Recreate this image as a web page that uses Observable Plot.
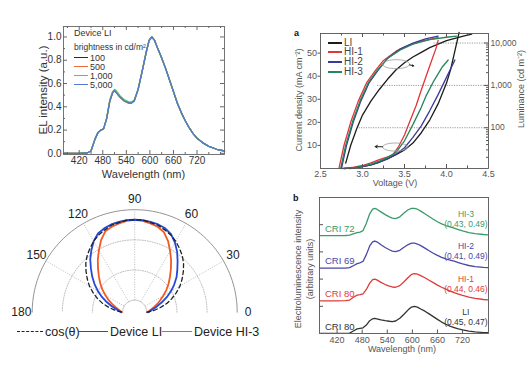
<!DOCTYPE html>
<html><head><meta charset="utf-8">
<script src="https://cdn.jsdelivr.net/npm/d3@7"></script>
<script src="https://cdn.jsdelivr.net/npm/@observablehq/plot@0.6"></script>
<style>
body{margin:0;background:#fff;}
#wrap{position:relative;width:530px;height:376px;overflow:hidden;background:#fff;}
</style></head><body><div id="wrap"></div>
<script>
// ================= DATA =================
// Panel 1: EL spectra of device LI at different brightness
const wavelengths = [380,400,420,440,450,460,468,475,482,490,498,505,510,515,525,535,545,552,560,570,580,590,598,605,612,620,630,640,650,660,670,680,690,700,710,720,735,750,770,790];
const el100  = [0,0,0,0.003,0.02,0.12,0.18,0.20,0.21,0.30,0.45,0.52,0.54,0.52,0.48,0.45,0.435,0.43,0.45,0.55,0.70,0.86,0.97,1.00,0.97,0.90,0.82,0.73,0.63,0.53,0.43,0.35,0.28,0.22,0.17,0.13,0.09,0.06,0.035,0.02];
const el500  = [0,0,0,0.003,0.02,0.12,0.18,0.20,0.21,0.30,0.45,0.52,0.535,0.52,0.48,0.45,0.43,0.43,0.45,0.55,0.70,0.86,0.97,1.00,0.97,0.90,0.82,0.73,0.63,0.53,0.43,0.35,0.28,0.22,0.17,0.13,0.09,0.06,0.035,0.02];
const el1000 = [0,0,0,0.003,0.02,0.12,0.18,0.20,0.21,0.30,0.46,0.53,0.55,0.535,0.49,0.46,0.445,0.44,0.455,0.55,0.70,0.86,0.97,1.00,0.97,0.90,0.82,0.73,0.63,0.53,0.43,0.35,0.28,0.22,0.17,0.13,0.09,0.06,0.035,0.02];
const el5000 = [0,0,0,0.003,0.02,0.12,0.18,0.20,0.21,0.30,0.45,0.52,0.54,0.52,0.48,0.45,0.435,0.43,0.45,0.55,0.70,0.86,0.97,1.00,0.97,0.90,0.82,0.73,0.63,0.53,0.43,0.35,0.28,0.22,0.17,0.13,0.09,0.06,0.035,0.02];
const brightnessLabels = ["100","500","1,000","5,000"];
const elTicksX = [420,480,540,600,660,720];
const elTicksY = [0,0.2,0.4,0.6,0.8,1.0];

// Panel a: J-V-L
const deviceNames = ["LI","HI-1","HI-2","HI-3"];
const voltLumLI  = [2.80,2.86,2.93,3.00,3.10,3.20,3.30,3.40,3.50,3.60,3.70,3.80,3.90,4.00,4.10,4.20,4.30];
const lumLI      = [14.6,38.6,93,199,425,800,1412,2339,3418,4688,6032,7768,9390,11347,12876,14600,16160];
const voltLumHI1 = [2.72,2.78,2.86,2.95,3.05,3.15,3.25,3.40,3.55,3.70,3.80,3.90];
const lumHI1     = [11,38.6,136,425,1168,2197,3878,6427,8815,11067,12240,13370];
const voltLumHI2 = [2.75,2.81,2.89,2.98,3.08,3.18,3.30,3.45,3.60,3.75,3.90];
const lumHI2     = [11,38.6,136,425,1168,2197,4397,7291,10000,12551,14600];
const voltLumHI3 = [2.74,2.80,2.88,2.97,3.07,3.17,3.30,3.45,3.60,3.80,4.00,4.12];
const lumHI3     = [11,38.6,136,425,1168,2197,4397,6843,9390,12088,13710,14600];
const voltJLI  = [2.85,2.90,3.00,3.10,3.20,3.30,3.40,3.50,3.60,3.70,3.80,3.90,4.00,4.05,4.10,4.15];
const curLI    = [0,0.3,0.8,1.6,2.8,4.3,6.0,8.0,11,15.5,21,28,37,43,51,59];
const voltJHI1 = [2.75,2.80,2.90,3.00,3.10,3.20,3.30,3.36,3.43,3.50,3.57,3.64,3.70,3.76,3.82,3.88,3.90];
const curHI1   = [0,0.2,0.6,1.3,2.4,3.8,5.0,5.9,9.5,14.5,21,27.4,34,40.3,46.5,52.6,55.5];
const voltJHI2 = [2.78,2.90,3.00,3.10,3.20,3.30,3.40,3.50,3.60,3.70,3.80,3.90,4.00,4.10];
const curHI2   = [0,0.3,0.8,1.6,2.7,4.2,6.2,9.0,13.5,18.5,25,32,39.5,47];
const voltJHI3 = [2.78,2.90,3.00,3.10,3.20,3.30,3.40,3.50,3.60,3.70,3.76,3.85,3.95,4.02];
const curHI3   = [0,0.4,1.0,1.9,3.2,4.8,7.0,12,19,26.5,31.7,38,44,47];
const currentTicks = [10,20,30,40,50];
const voltTicks = [2.5,3.0,3.5,4.0,4.5];
const lumTicks = [100,1000,10000];

// Polar: angular emission
const polarAngles = [0,5,10,15,20,25,30,35,40,45,50,55,60,65,70,75,80,85,90,95,100,105,110,115,120,125,130,135,140,145,150,155,160,165,170,175,180];
const polarCos = [0.00,0.09,0.17,0.26,0.34,0.42,0.50,0.57,0.64,0.71,0.77,0.82,0.87,0.91,0.94,0.97,0.98,1.00,1.00,1.00,0.98,0.97,0.94,0.91,0.87,0.82,0.77,0.71,0.64,0.57,0.50,0.42,0.34,0.26,0.17,0.09,0.00];
const polarLI  = [0.02,0.05,0.09,0.14,0.21,0.29,0.37,0.45,0.53,0.60,0.68,0.77,0.85,0.92,0.96,0.98,0.99,1.00,1.00,1.00,0.99,0.98,0.96,0.93,0.87,0.79,0.71,0.62,0.54,0.46,0.38,0.30,0.22,0.15,0.09,0.05,0.02];
const polarHI3 = [0.01,0.03,0.06,0.10,0.15,0.20,0.26,0.33,0.40,0.47,0.55,0.64,0.73,0.83,0.91,0.95,0.97,0.99,1.00,0.99,0.97,0.95,0.92,0.84,0.74,0.65,0.56,0.48,0.41,0.34,0.27,0.21,0.15,0.10,0.06,0.03,0.01];
const angleTicks = [0,30,60,90,120,150,180];
const polarLegend = ["cos(θ)","Device LI","Device HI-3"];

// Panel b: EL spectra of devices
const specLI  = [0,0,0,0.002,0.015,0.10,0.17,0.19,0.21,0.31,0.47,0.54,0.56,0.54,0.50,0.47,0.45,0.44,0.46,0.56,0.71,0.87,0.97,1.00,0.97,0.90,0.82,0.72,0.62,0.52,0.42,0.34,0.27,0.22,0.17,0.13,0.09,0.06,0.035,0.02];
const specHI1 = [0,0,0,0.005,0.03,0.14,0.21,0.23,0.26,0.42,0.65,0.78,0.80,0.77,0.68,0.60,0.54,0.51,0.50,0.56,0.70,0.86,0.97,1.00,0.98,0.93,0.85,0.76,0.67,0.58,0.50,0.43,0.36,0.30,0.25,0.20,0.14,0.09,0.05,0.03];
const specHI2 = [0,0,0,0.004,0.02,0.10,0.17,0.20,0.25,0.50,0.82,0.97,1.00,0.97,0.86,0.76,0.68,0.63,0.61,0.66,0.77,0.87,0.92,0.92,0.89,0.83,0.74,0.64,0.55,0.47,0.40,0.34,0.30,0.26,0.21,0.16,0.10,0.06,0.03,0.02];
const specHI3 = [0,0,0,0.003,0.015,0.07,0.11,0.13,0.18,0.45,0.80,0.97,1.00,0.97,0.87,0.77,0.69,0.64,0.62,0.69,0.83,0.95,1.00,1.00,0.97,0.90,0.80,0.70,0.60,0.51,0.43,0.37,0.32,0.27,0.22,0.17,0.11,0.07,0.04,0.02];
const criLabels = ["CRI 80","CRI 80","CRI 69","CRI 72"];
const cieLabels = ["(0.45, 0.47)","(0.44, 0.46)","(0.41, 0.49)","(0.43, 0.49)"];
const specTicksX = [420,480,540,600,660,720];
const specTicksY = [1,2,3,4];

// ================= HELPERS =================
const FONT = '"Liberation Sans", Arial, Helvetica, sans-serif';
const wrap = document.getElementById("wrap");
const rad = Math.PI / 180;
function place(svg, left, top) {
  svg.style.position = "absolute"; svg.style.left = left + "px"; svg.style.top = top + "px";
  svg.style.maxWidth = "none";
  wrap.appendChild(svg);
}
function label(text, x, y, o = {}) {
  const d = document.createElement("div");
  d.textContent = text;
  Object.assign(d.style, {position: "absolute", left: x + "px", top: y + "px", fontSize: (o.size || 10) + "px",
    lineHeight: "1", color: o.color || "#333", whiteSpace: "nowrap", fontWeight: o.bold ? "bold" : "normal", fontFamily: FONT});
  const ax = o.anchor === "middle" ? "-50%" : o.anchor === "end" ? "-100%" : "0";
  d.style.transform = o.rotate ? `translate(-50%, -50%) rotate(${o.rotate}deg)` : `translate(${ax}, -50%)`;
  wrap.appendChild(d);
}
function swatch(x1, x2, y, color, w = 1.5, dash = false) {
  const d = document.createElement("div");
  Object.assign(d.style, {position: "absolute", left: x1 + "px", top: (y - w / 2) + "px", width: (x2 - x1) + "px", height: "0",
    borderTop: `${w}px ${dash ? "dashed" : "solid"} ${color}`});
  wrap.appendChild(d);
}

// ================= PANEL 1 =================
{
  const m = {l: 63, r: 41, t: 26, b: 36}, w = 265, h = 190;
  const iw = w - m.l - m.r, ih = h - m.t - m.b;
  const colors = ["#2b2b2b", "#ef6a3a", "#3fd63f", "#5577d6"];
  const series = [el100, el500, el1000, el5000];
  const minorX = d3.range(390, 790, 30).filter(v => !elTicksX.includes(v));
  const minorY = d3.range(0.1, 1.09, 0.2);
  const p = Plot.plot({
    width: w, height: h, marginLeft: m.l, marginRight: m.r, marginTop: m.t, marginBottom: m.b,
    style: {fontFamily: FONT, fontSize: "10px", background: "transparent", color: "#333"},
    x: {domain: [380, 790]}, y: {domain: [-0.01, 1.09]},
    marks: [
      ...series.map((s, k) => Plot.line(wavelengths, {x: d => d, y: (d, i) => s[i], stroke: colors[k], strokeWidth: 1.3})),
      Plot.frame({stroke: "#666", strokeWidth: 0.9}),
      Plot.axisX(elTicksX, {tickSize: 0, tickPadding: 2.5, label: null, fontSize: 10, fill: "#333"}),
      Plot.axisY(elTicksY, {tickSize: 0, tickPadding: 2, tickFormat: d3.format(".1f"), label: null, fontSize: 10, fill: "#333"}),
      Plot.tickX(elTicksX, {x: d => d, insetTop: ih - 4, stroke: "#666"}),
      Plot.tickX(elTicksX, {x: d => d, insetBottom: ih - 4, stroke: "#666"}),
      Plot.tickX(minorX, {x: d => d, insetTop: ih - 2, stroke: "#666"}),
      Plot.tickX(minorX, {x: d => d, insetBottom: ih - 2, stroke: "#666"}),
      Plot.tickY(elTicksY, {y: d => d, insetRight: iw - 4, stroke: "#666"}),
      Plot.tickY(elTicksY, {y: d => d, insetLeft: iw - 4, stroke: "#666"}),
      Plot.tickY(minorY, {y: d => d, insetRight: iw - 2, stroke: "#666"}),
      Plot.tickY(minorY, {y: d => d, insetLeft: iw - 2, stroke: "#666"})
    ]
  });
  place(p, 0, 0);
  label("EL intensity (a.u.)", 44, 90, {size: 11.5, rotate: -90});
  label("Wavelength (nm)", 143.5, 174, {size: 11, anchor: "middle"});
  label("Device LI", 74, 33, {size: 9});
  label("brightness in cd/m²", 74, 47, {size: 8.5});
  const ly = [58, 67, 76, 85];
  brightnessLabels.forEach((t, i) => {
    swatch(74, 88, ly[i], colors[i], 1.6);
    label(t, 90, ly[i], {size: 9});
  });
}

// ================= PANEL a =================
{
  const m = {l: 55, r: 42, t: 33, b: 22}, w = 265, h = 190;
  const iw = w - m.l - m.r, ih = h - m.t - m.b;
  const jMax = 58.5, lumDomain = [10.9, 16800];
  const lumToJ = L => jMax * (Math.log10(L) - Math.log10(lumDomain[0])) / (Math.log10(lumDomain[1]) - Math.log10(lumDomain[0]));
  const colors = ["#1c1c1c", "#e3343c", "#3a3a98", "#23875a"];
  const lumSets = [[voltLumLI, lumLI], [voltLumHI1, lumHI1], [voltLumHI2, lumHI2], [voltLumHI3, lumHI3]];
  const curSets = [[voltJLI, curLI], [voltJHI1, curHI1], [voltJHI2, curHI2], [voltJHI3, curHI3]];
  const lumMinor = [1, 2, 3].flatMap(e => d3.range(2, 10).map(k => k * 10 ** e));
  const voltMinor = [2.75, 3.25, 3.75, 4.25];
  const voltMajor = [3.0, 3.5, 4.0];
  const refLines = [[10000, 3.85], [1000, 3.18], [100, 2.96]];
  const ellipse = (cxv, cyv, rx, ry) => d3.range(0, 361, 10).map(a => [cxv + rx * Math.cos(a * rad), cyv + ry * Math.sin(a * rad)]);
  const ellUp = ellipse(3.40, 45.2, 0.16, 1.95), ellDn = ellipse(3.39, 9.3, 0.15, 1.75);
  const p = Plot.plot({
    width: w, height: h, marginLeft: m.l, marginRight: m.r, marginTop: m.t, marginBottom: m.b,
    style: {fontFamily: FONT, fontSize: "9px", background: "transparent", color: "#555"},
    x: {domain: [2.5, 4.5]}, y: {domain: [0, jMax]},
    marks: [
      Plot.ruleY(refLines, {y: d => lumToJ(d[0]), x1: d => d[1], x2: 4.5, stroke: "#999", strokeWidth: 1, strokeDasharray: "1.2,1.2"}),
      ...lumSets.map(([v, L], k) => Plot.line(v, {x: d => d, y: (d, i) => lumToJ(L[i]), stroke: colors[k], strokeWidth: 1.3})),
      ...curSets.map(([v, J], k) => Plot.line(v, {x: d => d, y: (d, i) => J[i], stroke: colors[k], strokeWidth: 1.3})),
      Plot.line(ellUp, {x: d => d[0], y: d => d[1], stroke: "#999", strokeWidth: 0.8}),
      Plot.line(ellDn, {x: d => d[0], y: d => d[1], stroke: "#999", strokeWidth: 0.8}),
      Plot.arrow([[3.56, 44.9, 3.61, 44.5]], {x1: d => d[0], y1: d => d[1], x2: d => d[2], y2: d => d[3], stroke: "#222", headLength: 4, strokeWidth: 1}),
      Plot.arrow([[3.24, 9.4, 3.15, 9.5]], {x1: d => d[0], y1: d => d[1], x2: d => d[2], y2: d => d[3], stroke: "#222", headLength: 4, strokeWidth: 1}),
      Plot.frame({stroke: "#555", strokeWidth: 0.9}),
      Plot.axisX(voltTicks, {tickSize: 0, tickPadding: 2, tickFormat: d3.format(".1f"), label: null, fill: "#555", fontSize: 9}),
      Plot.axisY(currentTicks, {tickSize: 2.5, tickPadding: 1, label: null, fill: "#555", stroke: "#555", fontSize: 9}),
      Plot.text(lumTicks, {y: d => lumToJ(d), text: d => d3.format(",")(d), frameAnchor: "right", textAnchor: "start", dx: 2, fill: "#555", fontSize: 8.5}),
      Plot.tickX(voltMajor, {x: d => d, insetTop: ih - 4, stroke: "#555"}),
      Plot.tickX(voltMinor, {x: d => d, insetTop: ih - 2.5, stroke: "#555"}),
      Plot.tickX(voltMajor, {x: d => d, insetBottom: ih - 4, stroke: "#555"}),
      Plot.tickX(voltMinor, {x: d => d, insetBottom: ih - 2.5, stroke: "#555"}),
      Plot.tickY(lumTicks, {y: d => lumToJ(d), insetLeft: iw - 4, stroke: "#555"}),
      Plot.tickY(lumMinor, {y: d => lumToJ(d), insetLeft: iw - 2, stroke: "#555"})
    ]
  });
  place(p, 265, 0);
  label("a", 294, 33, {size: 9, bold: true, color: "#111"});
  label("Current density (mA cm⁻²)", 299, 100, {size: 9, rotate: -90, color: "#555"});
  label("Luminance (cd m⁻²)", 521, 89, {size: 9, rotate: -90, color: "#555"});
  label("Voltage (V)", 395, 183, {size: 9, anchor: "middle", color: "#555"});
  const ly = [42.7, 52.3, 62, 71.7];
  deviceNames.forEach((t, i) => {
    swatch(328, 342, ly[i], colors[i], 2);
    label(t, 344, ly[i], {size: 10, color: "#444"});
  });
}

// ================= POLAR =================
{
  const w = 265, h = 186, k = 80.4, cx = 134.2, cy = 121.7;
  const R0 = 0.15, rings = [0.375, 0.75], outer = 1.125, labR = 1.26;
  const arc = d3.range(0, 181, 2);
  const px = (r, a) => (R0 + r) * Math.cos(a * rad), py = (r, a) => (R0 + r) * Math.sin(a * rad);
  const p = Plot.plot({
    width: w, height: h, margin: 0,
    style: {fontFamily: FONT, fontSize: "12px", background: "transparent", color: "#222"},
    x: {domain: [-cx / k, (w - cx) / k], axis: null}, y: {domain: [-(h - cy) / k, cy / k], axis: null},
    marks: [
      ...rings.map(r => Plot.line(arc, {x: a => px(r, a), y: a => py(r, a), stroke: "#aaa", strokeWidth: 0.8, strokeDasharray: "1,1.5"})),
      Plot.line(arc, {x: a => px(0, a), y: a => py(0, a), stroke: "#aaa", strokeWidth: 0.8}),
      Plot.link([30, 60, 90, 120, 150], {x1: a => px(0, a), y1: a => py(0, a), x2: a => px(outer, a), y2: a => py(outer, a), stroke: "#aaa", strokeWidth: 0.8, strokeDasharray: "1,1.5"}),
      Plot.line(arc, {x: a => px(outer, a), y: a => py(outer, a), stroke: "#888", strokeWidth: 0.9}),
      Plot.text(angleTicks, {x: a => px(labR, a), y: a => py(labR, a), text: d => String(d), fontSize: 12, fill: "#222"}),
      Plot.line(polarAngles, {x: (a, i) => px(polarHI3[i], a), y: (a, i) => py(polarHI3[i], a), stroke: "#f15a24", strokeWidth: 1.8}),
      Plot.line(polarAngles, {x: (a, i) => px(polarLI[i], a), y: (a, i) => py(polarLI[i], a), stroke: "#2449d8", strokeWidth: 1.8}),
      Plot.line(polarAngles, {x: (a, i) => px(polarCos[i], a), y: (a, i) => py(polarCos[i], a), stroke: "#222", strokeWidth: 1.3, strokeDasharray: "4,3"})
    ]
  });
  place(p, 0, 190);
  const y = 331.7;
  swatch(17, 43, y, "#222", 1.4, true);
  label(polarLegend[0], 45, y, {size: 12.5, color: "#222"});
  swatch(78, 108, y, "#2449d8", 1.8);
  label(polarLegend[1], 110, y, {size: 12.5, color: "#222"});
  swatch(162, 192, y, "#f15a24", 1.8);
  label(polarLegend[2], 194, y, {size: 12.5, color: "#222"});
}

// ================= PANEL b =================
{
  const m = {l: 54, r: 42, t: 7, b: 43}, w = 265, h = 186;
  const iw = w - m.l - m.r, ih = h - m.t - m.b;
  const colors = ["#333333", "#dd3b3b", "#4848a6", "#3a9a6a"];
  const specs = [specLI, specHI1, specHI2, specHI3];
  const offsets = [0, 1.2, 2.4, 3.6];
  const p = Plot.plot({
    width: w, height: h, marginLeft: m.l, marginRight: m.r, marginTop: m.t, marginBottom: m.b,
    style: {fontFamily: FONT, fontSize: "9px", background: "transparent", color: "#555"},
    x: {domain: [378, 782]}, y: {domain: [0, 5], axis: null},
    marks: [
      ...specs.map((s, k) => Plot.line(wavelengths, {x: d => d, y: (d, i) => s[i] + offsets[k], stroke: colors[k], strokeWidth: 1.3, clip: true})),
      ...specs.map((s, k) => Plot.text([criLabels[k]], {x: () => 391, y: () => offsets[k] + 0.25, text: d => d, textAnchor: "start", fill: colors[k], fontSize: 9.5})),
      ...specs.map((s, k) => Plot.text([deviceNames[k]], {x: () => 728, y: () => offsets[k] + 0.79, text: d => d, textAnchor: "middle", fill: colors[k], fontSize: 8.5})),
      ...specs.map((s, k) => Plot.text([cieLabels[k]], {x: () => 728, y: () => offsets[k] + 0.43, text: d => d, textAnchor: "middle", fill: colors[k], fontSize: 8.5})),
      Plot.frame({stroke: "#555", strokeWidth: 0.9}),
      Plot.axisX(specTicksX, {tickSize: 0, tickPadding: 3, label: null, fill: "#555", fontSize: 9}),
      Plot.tickX(specTicksX, {x: d => d, insetTop: ih - 3.5, stroke: "#555"}),
      Plot.tickY(specTicksY, {y: d => d, insetRight: iw - 4, stroke: "#555"})
    ]
  });
  place(p, 265, 190);
  label("b", 293, 198, {size: 9, bold: true, color: "#111"});
  label("Electroluminescence intensity", 298, 269, {size: 9, rotate: -90, color: "#555"});
  label("(arbitrary units)", 310, 269, {size: 9, rotate: -90, color: "#555"});
  label("Wavelength (nm)", 402, 349, {size: 9, anchor: "middle", color: "#555"});
}
</script></body></html>
